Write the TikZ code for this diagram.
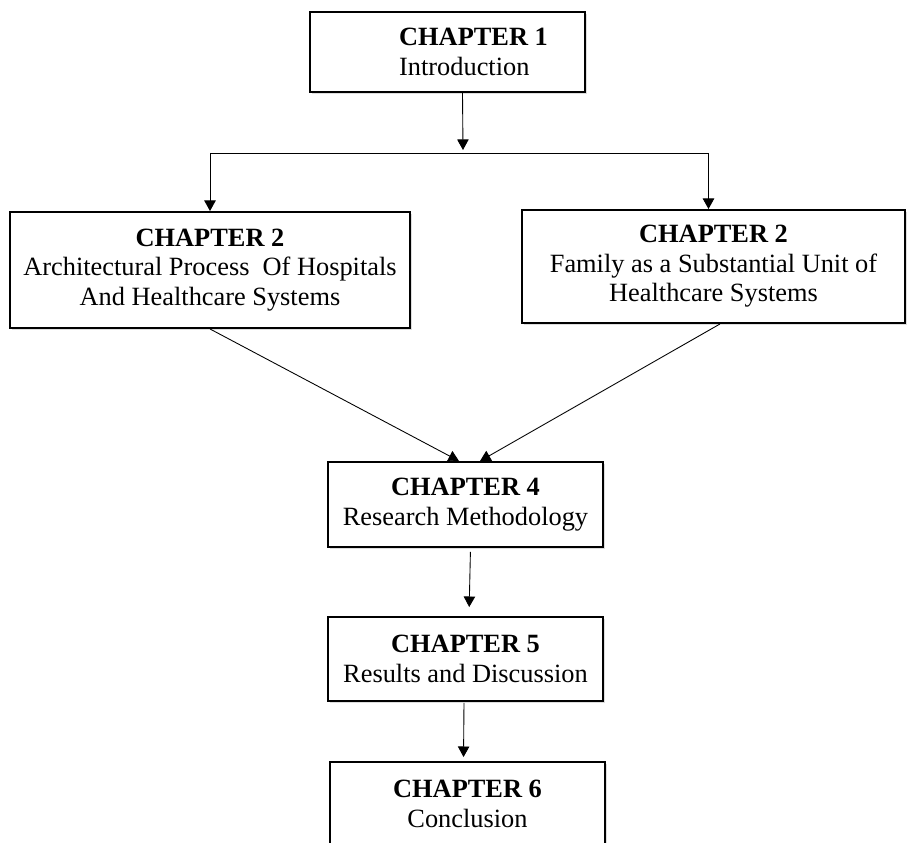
\documentclass[tikz,border=0pt]{standalone}
\usepackage{fontspec}
\setmainfont{Liberation Serif}
\usepackage{tikz}
\usetikzlibrary{arrows.meta,shadows}

\begin{document}
\begin{tikzpicture}[
  chapbox/.style={draw, line width=1.1pt, fill=white, align=center,
    font=\fontsize{15}{16.8}\selectfont, inner sep=0pt,
    drop shadow={shadow xshift=1.2pt, shadow yshift=-1.2pt, fill=black!22, opacity=.6}},
  link/.style={-{Triangle[length=6pt,width=6.5pt]}, line width=0.5pt}
]
\clip (0,0) rectangle (18.18,-16.86);

\node[chapbox, minimum width=5.5cm, minimum height=1.6cm, align=left] (ch1) at (8.95,-1.04)
  {\hspace*{1.04cm}\textbf{CHAPTER 1}\\\hspace*{1.04cm}Introduction};
\node[chapbox, minimum width=8.0cm, minimum height=2.32cm] (ch2a) at (4.2,-5.4)
  {\textbf{CHAPTER 2}\\Architectural Process\ \ Of Hospitals\\And Healthcare Systems};
\node[chapbox, minimum width=7.66cm, minimum height=2.26cm] (ch2b) at (14.27,-5.33)
  {\textbf{CHAPTER 2}\\Family as a Substantial Unit of\\Healthcare Systems};
\node[chapbox, minimum width=5.5cm, minimum height=1.7cm] (ch4) at (9.31,-10.09)
  {\textbf{CHAPTER 4}\\Research Methodology};
\node[chapbox, minimum width=5.5cm, minimum height=1.68cm] (ch5) at (9.31,-13.18)
  {\textbf{CHAPTER 5}\\Results and Discussion};
\node[chapbox, minimum width=5.5cm, minimum height=1.68cm] (ch6) at (9.35,-16.08)
  {\textbf{CHAPTER 6}\\Conclusion};

\coordinate (split) at (9.26,-3.06);
\draw[link] ([xshift=0.3cm]ch1.south) -- ([yshift=0.06cm]split);
\draw[line width=0.5pt] (split -| ch2a.north) -- ([xshift=-0.1cm]split -| ch2b.north);
\draw[link] (split -| ch2a.north) -- (ch2a.north);
\draw[link] ([xshift=-0.1cm]split -| ch2b.north) -- ([xshift=-0.1cm]ch2b.north);

\draw[link] (ch2a.south) -- ([xshift=-0.13cm]ch4.north);
\draw[link] ([xshift=0.13cm]ch2b.south) -- ([xshift=0.29cm]ch4.north);

\draw[link, shorten <=0.08cm, shorten >=0.18cm] ([xshift=0.1cm]ch4.south) -- ([xshift=0.07cm]ch5.north);
\draw[link, shorten <=0.02cm, shorten >=0.08cm] ([xshift=-0.03cm]ch5.south) -- ([xshift=-0.08cm]ch6.north);

\end{tikzpicture}
\end{document}
